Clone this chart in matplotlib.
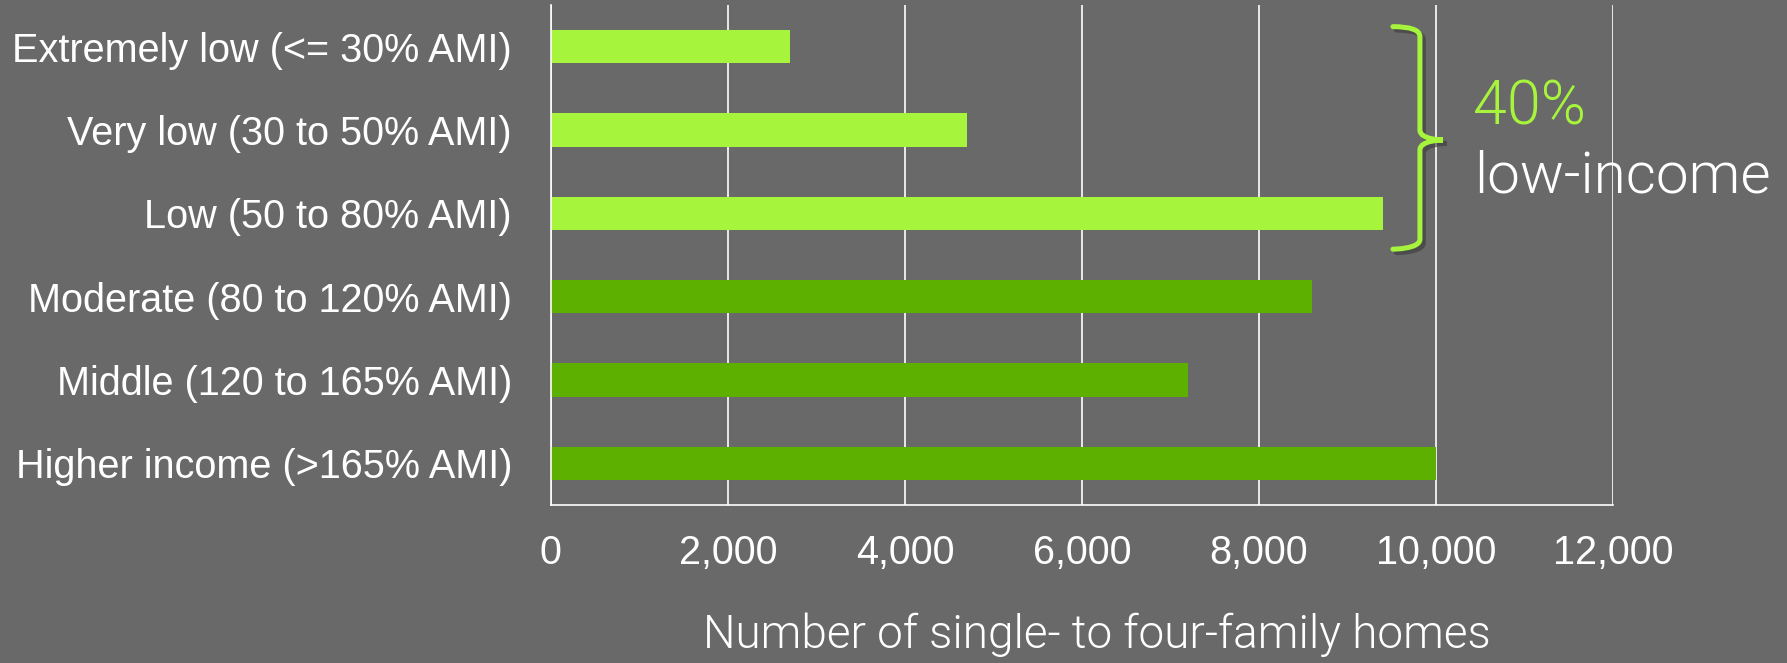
import numpy as np
import matplotlib
matplotlib.use("Agg")
import matplotlib.pyplot as plt
from matplotlib.path import Path
from matplotlib.patches import PathPatch
import matplotlib.patheffects as pe
from matplotlib.ticker import FuncFormatter

# ===================== DATA =====================
categorias = [
    "Extremely low (<= 30% AMI)",
    "Very low (30 to 50% AMI)",
    "Low (50 to 80% AMI)",
    "Moderate (80 to 120% AMI)",
    "Middle (120 to 165% AMI)",
    "Higher income (>165% AMI)",
]
casas = [2700, 4700, 9400, 8600, 7200, 10000]
baixa_renda = [True, True, True, False, False, False]
x_ticks = [0, 2000, 4000, 6000, 8000, 10000, 12000]

# ===================== STYLE ====================
fundo = "#696969"
verde_claro = "#A6F53C"
verde_escuro = "#5DB000"
fonte_fina = ["Roboto", "Liberation Sans"]
plt.rcParams["font.family"] = ["Liberation Sans", "DejaVu Sans"]

fig = plt.figure(figsize=(17.87, 6.63), dpi=100, facecolor=fundo)
ax = fig.add_axes([0.3083, 0.2383, 0.5943, 0.7542])
ax.set_facecolor(fundo)

y = np.arange(len(categorias))
cores = [verde_claro if b else verde_escuro for b in baixa_renda]
ax.barh(y, casas, height=0.4, color=cores, zorder=3)

ax.set_xlim(0, 12000)
ax.set_ylim(len(categorias) - 0.5, -0.5)
ax.set_xticks(x_ticks)
ax.xaxis.set_major_formatter(FuncFormatter(lambda v, p: f"{int(v):,}"))
ax.set_yticks(y)
ax.set_yticklabels(categorias)

ax.grid(axis="x", color="white", linewidth=1.2, zorder=1)
for s in ["top", "right"]:
    ax.spines[s].set_visible(False)
for s in ["left", "bottom"]:
    ax.spines[s].set_color("white")
    ax.spines[s].set_linewidth(1.2)
    ax.spines[s].set_zorder(4)

ax.tick_params(axis="x", length=0, pad=21, labelsize=28.5, labelcolor="white")
ax.tick_params(axis="y", length=0, pad=28, labelsize=28.5, labelcolor="white")

fig.text(0.614, 0.0226, "Number of single- to four-family homes",
         ha="center", va="baseline", fontsize=33, color="white",
         family=fonte_fina, fontweight=300)

# ===================== CHAVE ====================
x0, x1, xp = 9514, 9819, 10080
yt, ym, yb = -0.24, 1.12, 2.43
r = 0.12
verts = [
    (x0, yt), (x1, yt), (x1, yt + r),
    (x1, ym - r),
    (x1, ym), (xp, ym), (xp, ym),
    (xp, ym), (x1, ym), (x1, ym + r),
    (x1, yb - r),
    (x1, yb), (x0, yb), (x0, yb),
]
codes = [Path.MOVETO, Path.CURVE3, Path.CURVE3,
         Path.LINETO,
         Path.CURVE4, Path.CURVE4, Path.CURVE4,
         Path.CURVE4, Path.CURVE4, Path.CURVE4,
         Path.LINETO,
         Path.CURVE4, Path.CURVE4, Path.CURVE4]
chave = PathPatch(Path(verts, codes), fill=False, edgecolor=verde_claro,
                  linewidth=3.6, clip_on=False, zorder=5, capstyle="round")
chave.set_path_effects([pe.SimpleLineShadow(offset=(2.5, -2.5), shadow_color="#3a3a3a", alpha=0.6),
                        pe.Normal()])
ax.add_patch(chave)

fig.text(0.8243, 0.8115, "40%", ha="left", va="baseline", fontsize=44,
         color=verde_claro, family=fonte_fina, fontweight=300)
fig.text(0.8248, 0.7089, "low-income", ha="left", va="baseline", fontsize=42,
         color="white", family=fonte_fina, fontweight=300)

fig.savefig("out.png", dpi=100, facecolor=fundo)
